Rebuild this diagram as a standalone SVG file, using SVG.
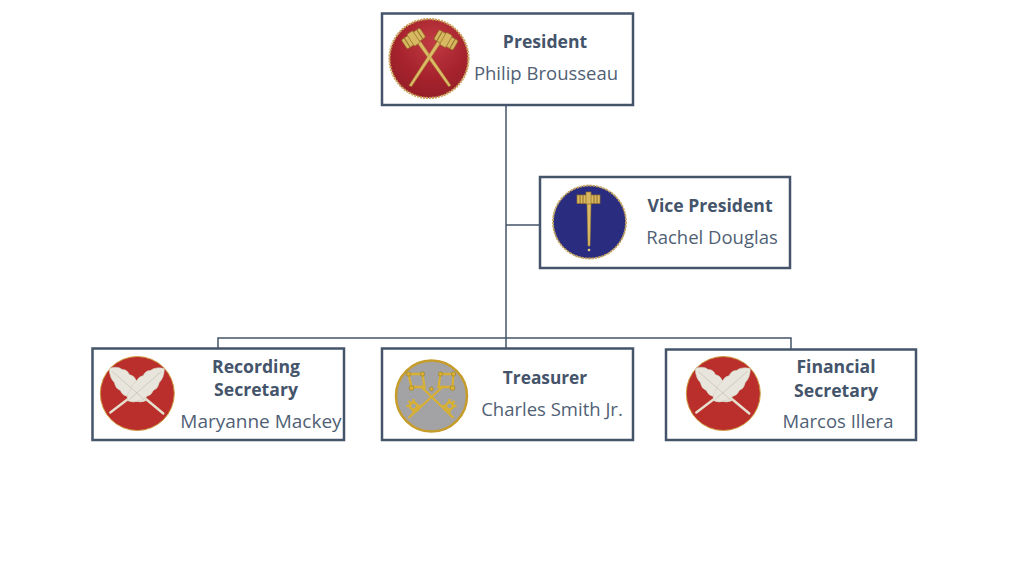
<svg xmlns="http://www.w3.org/2000/svg" width="1024" height="576" viewBox="0 0 1024 576">
<style>
.box{fill:#fff;stroke:#44546a;stroke-width:2.5}
.conn{fill:none;stroke:#44546a;stroke-width:1.5}
text{font-family:"Open Sans","Noto Sans","Liberation Sans",sans-serif;fill:#44546a;text-anchor:middle}
.t{font-size:17.6px;font-weight:700}
.n{font-size:18.5px;fill:#515f75}
.wide{font-size:19px}
.narrow{font-size:17.3px}
.head{fill:#d9b862;stroke:#94722a;stroke-width:.7}
.rib{stroke:#8f6f28;stroke-width:1;fill:none}
.handle{fill:#dcbb66;stroke:#a5822f;stroke-width:.5}
.feather{fill:#e8e5dc;stroke:#d2cdbd;stroke-width:.6}
.vein{fill:none;stroke:#c4c0b2;stroke-width:.7}
.quill{stroke:#e6e0cf;stroke-width:2.4;fill:none;stroke-linecap:round}
.key{fill:none;stroke:#d8b033;stroke-width:2.3}
.knob{fill:#d8b033;stroke:#8f7322;stroke-width:.5}
</style>
<defs>
<radialGradient id="redShade" cx=".55" cy=".3" r=".8"><stop offset="0" stop-color="#c03a42"/><stop offset=".55" stop-color="#a6232d"/><stop offset="1" stop-color="#8f1c26"/></radialGradient>
<g id="gavelHead"><rect x="-11" y="-5.500" width="22" height="11" rx="1.500" class="head"/><rect x="-3.500" y="-7" width="7" height="14" rx="1.500" class="head"/><path class="rib" d="M-7.500-5.500v11M7.500-5.500v11"/></g>
<g id="quillPair">
<circle r="37" fill="#ba2f2b" stroke="#cf9f44" stroke-width="1"/>
<path class="quill" d="M-27 19 L-2 0"/>
<path class="quill" d="M26 20 L2 0"/>
<path class="feather" d="M-28-25 Q-20-28-15-24 Q-10-24-8-19 Q-3-18-1-13 Q4-11 6-5 Q9 0 9 7 Q3 10-3 7 Q-8 7-10 3 Q-15 2-17-3 Q-22-5-23-11 Q-28-16-28-25Z"/>
<path class="feather" d="M27-25 Q18-27 13-23 Q8-23 6-18 Q1-17-1-12 Q-6-9-7-4 Q-11 1-10 7 Q-4 10 2 7 Q7 7 9 3 Q14 2 16-3 Q21-5 22-11 Q27-16 27-25Z"/>
<path class="vein" d="M-25-22 L7 6M24-22 L-8 6"/>
</g>
<g id="ward"><circle r="3.500" class="key" stroke-width="1.800"/><path class="key" stroke-width="2" d="M0-7V-3.500M0 3.500V7M-7 0H-3.500M3.500 0H7M-5-5L-2.500-2.500M5 5L2.500 2.500"/></g>
</defs>
<g id="connectors">
<path class="conn" d="M506 105V348M506 225H540M218 348V338H791V349"/>
</g>
<g id="president">
<rect class="box" x="382" y="13.500" width="251" height="91.500"/>
<circle cx="429" cy="58.500" r="39.500" fill="url(#redShade)" stroke="#c9a35a" stroke-width="2.200" stroke-dasharray="2 1"/>
<g transform="translate(429 58.500)">
<path class="handle" d="M-12-16 L-9-18 L22 27 L19.500 28Z"/>
<path class="handle" d="M12-16 L9-18 L-20 27 L-17.500 28Z"/>
<use href="#gavelHead" transform="translate(-15.500 -20) rotate(-33)"/>
<use href="#gavelHead" transform="translate(17 -18.500) rotate(30)"/>
</g>
<text class="t" x="545" y="48">President</text>
<text class="n" x="546" y="80">Philip Brousseau</text>
</g>
<g id="vice-president">
<rect class="box" x="540" y="177" width="250" height="91"/>
<circle cx="589.500" cy="222" r="36.500" fill="#2a2c7f" stroke="#c2a45e" stroke-width="1.800" stroke-dasharray="2.500 .8"/>
<path class="handle" d="M587 203 H591 L590 246 H588Z"/>
<circle cx="589" cy="250" r="1.300" fill="#e4cc85"/>
<rect x="577" y="195" width="23" height="8.500" class="head"/>
<rect x="586" y="192" width="5" height="12" class="head"/>
<path class="rib" d="M580 195v8.500M583 195v8.500M594 195v8.500M597 195v8.500"/>
<text class="t" x="710" y="211.500">Vice President</text>
<text class="n" x="712" y="243.500">Rachel Douglas</text>
</g>
<g id="recording-secretary">
<rect class="box" x="92.500" y="348.500" width="251.500" height="91.500"/>
<use href="#quillPair" transform="translate(137.300 393.500)"/>
<text class="t" x="256" y="373">Recording</text>
<text class="t" x="256" y="396">Secretary</text>
<text class="n wide" x="261" y="428">Maryanne Mackey</text>
</g>
<g id="treasurer">
<rect class="box" x="382" y="348.500" width="251" height="91.500"/>
<circle cx="431.500" cy="396" r="35.500" fill="#a3a3a5" stroke="#c69c2b" stroke-width="2.500"/>
<g transform="translate(431.500 396)">
<path class="key" d="M-23 22 L12-10M22 22 L-11-10"/>
<path class="key" stroke-width="2" d="M-23-22 H-9 L-7-9 L-20-9Z M9-22 H22 L21-9 L7-9Z"/>
<circle class="knob" cx="-23" cy="-22" r="2.200"/><circle class="knob" cx="-9" cy="-22" r="2.200"/>
<circle class="knob" cx="9" cy="-22" r="2.200"/><circle class="knob" cx="22" cy="-22" r="2.200"/>
<circle class="knob" cx="-20" cy="-8" r="2.500"/><circle class="knob" cx="21" cy="-8" r="2.500"/>
<circle class="knob" cx="0" cy="-7" r="2"/>
<use href="#ward" transform="translate(-18 10)"/>
<use href="#ward" transform="translate(18 10) scale(-1 1)"/>
</g>
<text class="t narrow" x="545" y="384">Treasurer</text>
<text class="n" x="552" y="416">Charles Smith Jr.</text>
</g>
<g id="financial-secretary">
<rect class="box" x="666" y="349.500" width="250" height="90.500"/>
<use href="#quillPair" transform="translate(723.300 393.500)"/>
<text class="t" x="836" y="373">Financial</text>
<text class="t" x="836" y="397">Secretary</text>
<text class="n" x="838" y="428">Marcos Illera</text>
</g>
</svg>
